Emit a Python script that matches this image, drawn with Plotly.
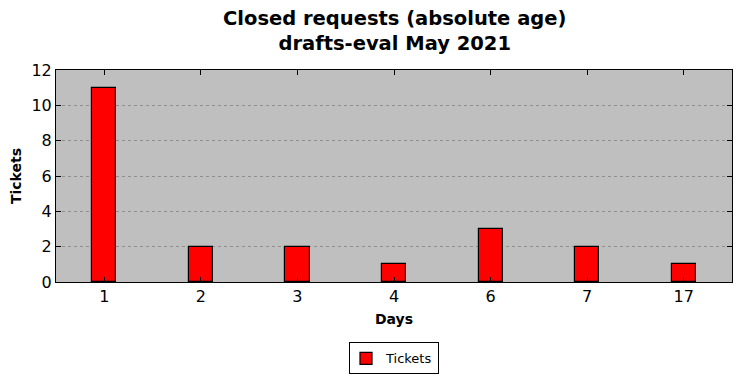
import plotly.graph_objects as go

days = ["1", "2", "3", "4", "6", "7", "17"]
tickets = [11, 2, 2, 1, 3, 2, 1]

fig = go.Figure()
fig.add_trace(go.Bar(
    x=days, y=tickets, name="Tickets", width=0.25,
    marker=dict(color="#ff0000", line=dict(color="black", width=1.2)),
    showlegend=True,
))

font = "DejaVu Sans"
# the page body adds an 8px offset, so the figure is sized to fit the window
fig.update_layout(
    width=733, height=370,
    margin=dict(l=48, r=9, t=62, b=96, autoexpand=False),
    paper_bgcolor="white", plot_bgcolor="#bfbfbf",
    font=dict(family=font, color="black", size=16),
    showlegend=True,
    legend=dict(orientation="h", x=0.5, xanchor="center", y=-0.285, yanchor="top",
                bordercolor="black", borderwidth=1, font=dict(size=13, family=font),
                bgcolor="white", itemwidth=30, tracegroupgap=0,
                indentation=-4),
    bargap=0,
    annotations=[dict(text="<b>Closed requests (absolute age)<br>drafts-eval May 2021</b>",
                      xref="paper", yref="paper", x=0.5, y=1.185,
                      xanchor="center", yanchor="middle", showarrow=False,
                      font=dict(size=19.5, family=font))],
)
fig.update_xaxes(
    type="category", range=[-0.5, 6.5], automargin=False,
    title=dict(text="<b>Days</b>", font=dict(size=14), standoff=8),
    showline=True, linecolor="black", linewidth=1, mirror="ticks",
    ticks="inside", ticklen=5, tickcolor="black", showgrid=False,
)
fig.update_yaxes(
    range=[0, 12], dtick=2, automargin=False,
    title=dict(text="<b>Tickets</b>", font=dict(size=14), standoff=6),
    showline=True, linecolor="black", linewidth=1, mirror="ticks",
    ticks="inside", ticklen=5, tickcolor="black",
    showgrid=True, gridcolor="#8f8f8f", griddash="dot", gridwidth=0.8,
    zeroline=False,
)
fig.write_html("out.html")
